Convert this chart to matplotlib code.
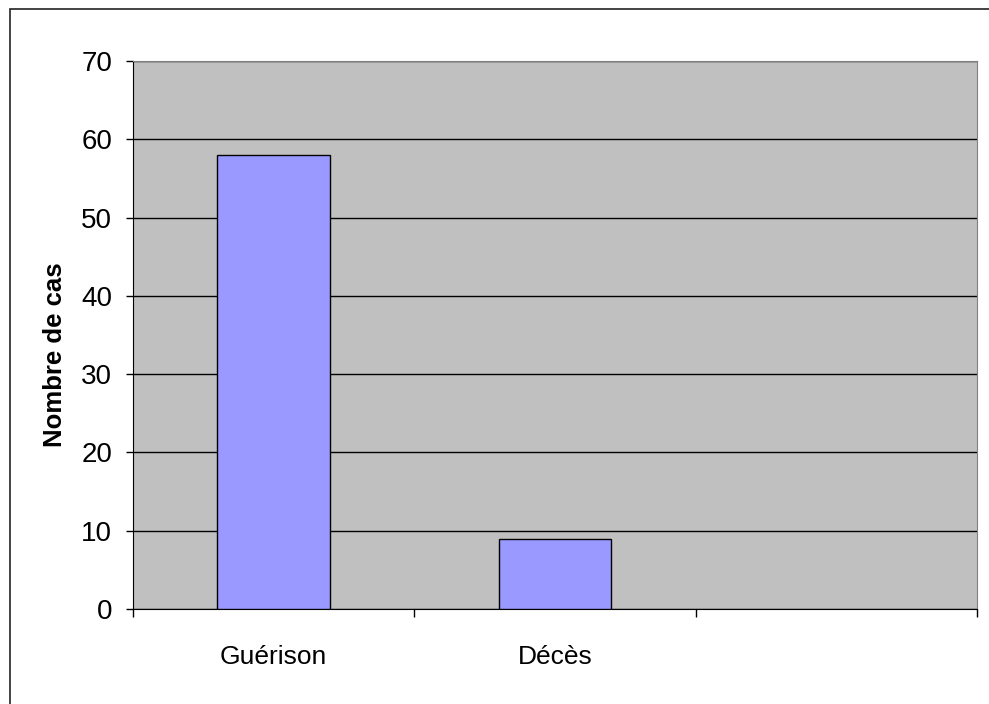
import matplotlib
matplotlib.use('Agg')
import numpy as np
from matplotlib import pyplot as plt
from matplotlib.patches import Rectangle

plt.rcParams['font.family'] = ['Liberation Sans', 'DejaVu Sans']

categories = ['Guérison', 'Décès', '']
values = [58, 9]
yticks = [0, 10, 20, 30, 40, 50, 60, 70]

fig = plt.figure(figsize=(9.89, 7.04), dpi=100)
fig.patches.append(Rectangle((10 / 989, -0.05), 1.0, 1.05 - 9 / 704,
                             transform=fig.transFigure, fill=False,
                             edgecolor='#222222', linewidth=1.2))

ax = fig.add_axes([0.1345, 0.1349, 0.8534, 0.7785])
ax.set_facecolor('#C0C0C0')

x = np.arange(len(values))
ax.bar(x, values, width=0.4, color='#9999FF', edgecolor='black',
       linewidth=1, zorder=3)

ax.set_xlim(-0.5, len(categories) - 0.5)
ax.set_ylim(0, 70)
ax.set_yticks(yticks)
ax.yaxis.grid(True, color='black', linewidth=1, zorder=1)
ax.set_axisbelow(True)

ax.set_xticks(np.arange(len(categories)))
ax.set_xticklabels(categories, fontsize=19)
ax.tick_params(axis='x', which='major', length=0, pad=26)
ax.set_xticks(np.arange(len(categories) + 1) - 0.5, minor=True)
ax.tick_params(axis='x', which='minor', length=6, width=1, direction='out')
ax.tick_params(axis='y', labelsize=20, length=5, width=1, pad=10)

ax.set_ylabel('Nombre de cas', fontsize=18.5, fontweight='bold')
ax.yaxis.set_label_coords(-0.078, 0.4635)

for side in ['top', 'right']:
    ax.spines[side].set_color('#808080')
for side in ['left', 'bottom']:
    ax.spines[side].set_color('black')

fig.savefig('out.png', dpi=100)
